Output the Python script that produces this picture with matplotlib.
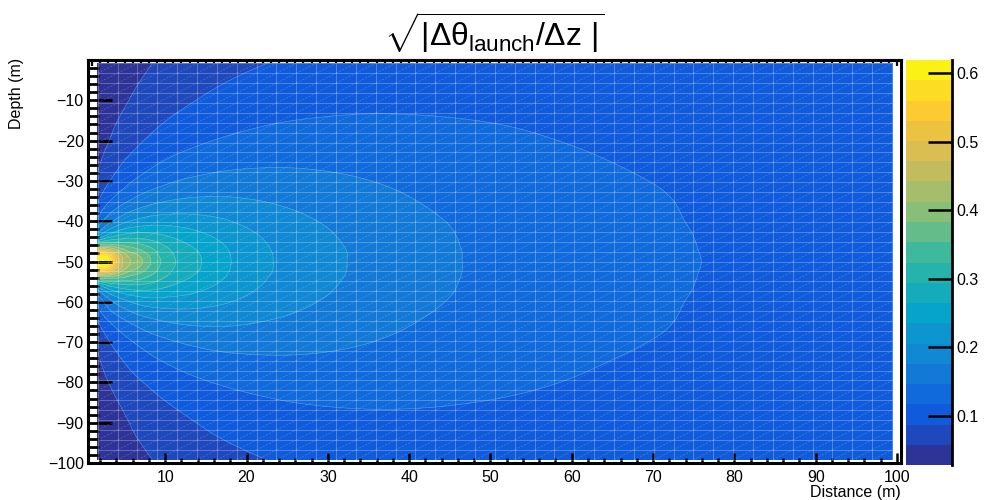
import numpy as np
import matplotlib
matplotlib.use('Agg')
import matplotlib.pyplot as plt
import matplotlib.tri as mtri
from matplotlib.colors import LinearSegmentedColormap
from matplotlib.collections import LineCollection
from matplotlib.ticker import MultipleLocator

plt.rcParams['font.family'] = ['Liberation Sans', 'DejaVu Sans']
plt.rcParams['mathtext.fontset'] = 'custom'
plt.rcParams['mathtext.rm'] = 'Liberation Sans'
plt.rcParams['mathtext.it'] = 'Liberation Sans'
plt.rcParams['mathtext.bf'] = 'Liberation Sans:bold'

# distance nodes (m)
distance = [1.7, 2.6, 4, 6, 9, 13, 19, 27, 38, 54, 75, 87, 99.4]
# depth offset of each row from the source at -50 m (upper half, top row first)
src_depth = -50.0
offset = [49.2, 41, 32, 23, 16, 11, 7, 4, 2, 0]
# sqrt|dtheta_launch/dz| on the upper half, one row per offset
upper = [
    [0.0286, 0.0327, 0.0405, 0.0494, 0.0600, 0.0709, 0.0826, 0.0926, 0.0992, 0.1006, 0.0966, 0.0933, 0.0899],
    [0.0318, 0.0392, 0.0486, 0.0591, 0.0715, 0.0838, 0.0965, 0.1058, 0.1103, 0.1084, 0.1013, 0.0970, 0.0927],
    [0.0407, 0.0502, 0.0620, 0.0752, 0.0902, 0.1044, 0.1171, 0.1245, 0.1248, 0.1178, 0.1066, 0.1006, 0.0955],
    [0.0565, 0.0697, 0.0857, 0.1031, 0.1215, 0.1365, 0.1461, 0.1468, 0.1392, 0.1256, 0.1115, 0.1037, 0.0977],
    [0.0810, 0.0995, 0.1213, 0.1433, 0.1634, 0.1749, 0.1755, 0.1656, 0.1495, 0.1310, 0.1150, 0.1054, 0.0990],
    [0.1170, 0.1427, 0.1709, 0.1955, 0.2110, 0.2117, 0.1985, 0.1780, 0.1558, 0.1340, 0.1160, 0.1064, 0.0997],
    [0.1810, 0.2160, 0.2480, 0.2660, 0.2630, 0.2440, 0.2150, 0.1860, 0.1600, 0.1357, 0.1170, 0.1069, 0.1000],
    [0.3600, 0.3700, 0.3600, 0.3400, 0.3050, 0.2650, 0.2245, 0.1900, 0.1618, 0.1362, 0.1175, 0.1071, 0.1002],
    [0.5400, 0.5400, 0.4600, 0.3870, 0.3250, 0.2740, 0.2280, 0.1920, 0.1625, 0.1365, 0.1178, 0.1072, 0.1003],
    [0.6000, 0.6190, 0.5000, 0.4080, 0.3330, 0.2770, 0.2290, 0.1920, 0.1625, 0.1365, 0.1180, 0.1072, 0.1003],
]

# mirror the upper half below the source depth
rows = upper + upper[-2::-1]
depth = [src_depth + o for o in offset] + [src_depth - o for o in offset[-2::-1]]
X, Z = np.meshgrid(distance, depth)
V = np.array(rows)

# ROOT kBird palette
stops = [0.0, 0.125, 0.25, 0.375, 0.5, 0.625, 0.75, 0.875, 1.0]
red = [0.2082, 0.0592, 0.0780, 0.0232, 0.1802, 0.5301, 0.8186, 0.9956, 0.9764]
green = [0.1664, 0.3599, 0.5041, 0.6419, 0.7178, 0.7492, 0.7328, 0.7862, 0.9832]
blue = [0.5293, 0.8684, 0.8385, 0.7914, 0.6425, 0.4662, 0.3499, 0.1968, 0.0539]
bird = LinearSegmentedColormap.from_list(
    'bird', [(s, (r, g, b)) for s, r, g, b in zip(stops, red, green, blue)], N=255)

vmin, vmax = V.min(), V.max()
levels = np.linspace(vmin, vmax, 21)

tri = mtri.Triangulation(X.ravel(), Z.ravel())
refiner = mtri.UniformTriRefiner(tri)
tri_f, v_f = refiner.refine_field(V.ravel(), subdiv=4)
v_f = np.clip(v_f, vmin, vmax)

fig = plt.figure(figsize=(9.94, 5.0), dpi=100)
ax = fig.add_axes([88 / 994, 1 - 463 / 500, 813 / 994, 403 / 500])

cs = ax.tricontourf(tri_f, v_f, levels=levels, cmap=bird, vmin=vmin, vmax=vmax)
ax.tricontour(tri_f, v_f, levels=levels[1:-1], colors='white', linewidths=0.5, alpha=0.25)

# faint interpolation mesh on top of the colours
gx = np.linspace(distance[0], distance[-1], 41)
gz = np.linspace(depth[-1], depth[0], 41)
ax.vlines(gx, gz[0], gz[-1], colors='white', linewidths=0.6, alpha=0.3)
ax.hlines(gz, gx[0], gx[-1], colors='white', linewidths=0.6, alpha=0.3)
diag = [[(gx[i], gz[j]), (gx[i + 1], gz[j + 1])] for i in range(40) for j in range(40)]
ax.add_collection(LineCollection(diag, colors='white', linewidths=0.5, alpha=0.22,
                                 linestyles=(0, (3, 2))))

ax.set_xlim(0.5, 100.5)
ax.set_ylim(-100, 0)
for sp in ax.spines.values():
    sp.set_linewidth(2.2)

ax.xaxis.set_major_locator(MultipleLocator(10))
ax.xaxis.set_minor_locator(MultipleLocator(2))
ax.yaxis.set_major_locator(MultipleLocator(10))
ax.yaxis.set_minor_locator(MultipleLocator(2))
ax.set_yticks(np.arange(-100, 0, 10))
ax.tick_params(axis='x', which='major', direction='in', length=7, width=1.8, labelsize=11.5, pad=5)
ax.tick_params(axis='x', which='minor', direction='in', length=3.6, width=1.8)
ax.tick_params(axis='y', which='major', direction='in', length=17, width=2, labelsize=11.5, pad=3)
ax.tick_params(axis='y', which='minor', direction='in', length=8, width=2)

top = ax.secondary_xaxis('top')
top.xaxis.set_major_locator(MultipleLocator(1))
top.tick_params(direction='in', length=4, width=1.6, labeltop=False)
top.spines['top'].set_linewidth(2.2)

fig.text(17 / 994, 1 - 58 / 500, 'Depth (m)', rotation=90, ha='center', va='top', fontsize=11.5)
fig.text(901 / 994, 1 - 492 / 500, 'Distance (m)', ha='right', va='center', fontsize=11.5)
fig.text(494 / 994, 1 - 33 / 500, r'$\sqrt{|\Delta\theta_{launch}/\Delta z\ |}$',
         ha='center', va='center', fontsize=23)

cax = fig.add_axes([906 / 994, 1 - 465 / 500, 46 / 994, 405 / 500])
cb = fig.colorbar(cs, cax=cax)
cb.outline.set_visible(False)
cax.plot([1, 1], [0, 1], transform=cax.transAxes, color='black', lw=2, clip_on=False)
cb.set_ticks([0.1, 0.2, 0.3, 0.4, 0.5, 0.6])
cb.set_ticklabels(['0.1', '0.2', '0.3', '0.4', '0.5', '0.6'])
cax.yaxis.set_ticks_position('right')
cax.tick_params(axis='y', which='major', direction='in', length=17, width=1.8, labelsize=11.5, pad=3)
cax.minorticks_off()

fig.savefig('out.png', dpi=100)
